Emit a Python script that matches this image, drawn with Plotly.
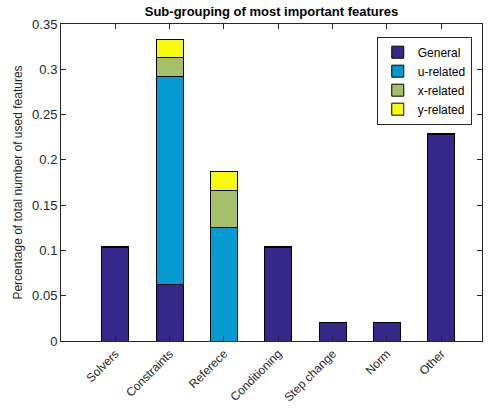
import plotly.graph_objects as go

categories = ["Solvers", "Constraints", "Referece", "Conditioning", "Step change", "Norm", "Other"]
general = [0.1030, 0.0625, 0.0, 0.1030, 0.0208, 0.0208, 0.2283]
u_related = [0.0, 0.2292, 0.1250, 0.0, 0.0, 0.0, 0.0]
x_related = [0.0, 0.0208, 0.0417, 0.0, 0.0, 0.0, 0.0]
y_related = [0.0018, 0.0208, 0.0208, 0.0018, 0.0, 0.0, 0.0012]

series = [
    ("General", general, "#35288a"),
    ("u-related", u_related, "#069ad2"),
    ("x-related", x_related, "#a5bf6b"),
    ("y-related", y_related, "#f8fa0d"),
]

xpos = list(range(1, len(categories) + 1))
fig = go.Figure()
for name, vals, col in series:
    fig.add_trace(go.Bar(
        x=xpos, y=vals, name=name, width=0.5,
        marker=dict(color=col, line=dict(color="black", width=1)),
    ))

font = "Liberation Sans, Arial, sans-serif"
fig.update_layout(
    barmode="stack",
    width=489, height=411,
    margin=dict(l=61, r=7, t=24, b=70),
    plot_bgcolor="white", paper_bgcolor="white",
    font=dict(family=font, size=12, color="#262626"),
    title=dict(text="<b>Sub-grouping of most important features</b>",
               x=(61 + 482) / 2 / 489, xanchor="center", y=1 - 11 / 411, yanchor="middle",
               font=dict(size=13, color="black")),
    showlegend=True,
    legend=dict(x=0.75, y=0.96, xanchor="left", yanchor="top",
                bgcolor="white", bordercolor="#262626", borderwidth=1,
                font=dict(size=12, color="black"), tracegroupgap=0,
                traceorder="normal"),
    xaxis=dict(range=[0, 7.75], tickvals=xpos, ticktext=categories, tickangle=-45,
               showline=True, linecolor="#262626", linewidth=1, mirror="ticks",
               ticks="inside", ticklen=5, tickcolor="#262626", showgrid=False,
               zeroline=False, tickfont=dict(size=12)),
    yaxis=dict(range=[0, 0.35], dtick=0.05, tickformat="~g",
               showline=True, linecolor="#262626", linewidth=1, mirror="ticks",
               ticks="inside", ticklen=5, tickcolor="#262626", showgrid=False,
               zeroline=False, tickfont=dict(size=13),
               title=dict(text="Percentage of total number of used features",
                          font=dict(size=12), standoff=6)),
)
fig.write_html("out.html")
